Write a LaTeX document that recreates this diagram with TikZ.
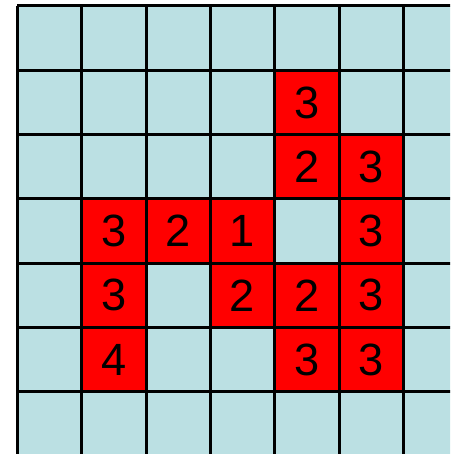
\documentclass[tikz,border=0pt]{standalone}
\usepackage{fontspec}
\setmainfont{Liberation Sans}
\usepackage{tikz}
\usetikzlibrary{positioning}
\definecolor{cellblue}{RGB}{187,224,227}
\definecolor{cellred}{RGB}{255,0,0}

\begin{document}
\begin{tikzpicture}[
  x=1.2cm, y=-1.2cm,
  hot/.style={rectangle, fill=cellred, minimum size=1.2cm, inner sep=0pt, font=\fontsize{24}{28}\selectfont},
  gridline/.style={draw=black, line width=1.6pt}
]
\useasboundingbox (-0.272,-0.093) rectangle (6.726,6.967);
\clip (-0.272,-0.093) rectangle (6.726,6.967);

% Background
\fill[cellblue] (0,0) rectangle (7,7);

% Red cells with distances
\foreach \c/\r/\v in {4/1/3, 4/2/2, 5/2/3, 1/3/3, 2/3/2, 3/3/1, 5/3/3,
                      1/4/3, 3/4/2, 4/4/2, 5/4/3, 1/5/4, 4/5/3, 5/5/3} {
  \node[hot] (c\c\r) at (\c+0.5,\r+0.5) {\v};
}

% Grid
\foreach \i in {0,...,7} {
  \draw[gridline] (\i,0) -- (\i,7);
  \draw[gridline] (0,\i) -- (7,\i);
}
\end{tikzpicture}
\end{document}
